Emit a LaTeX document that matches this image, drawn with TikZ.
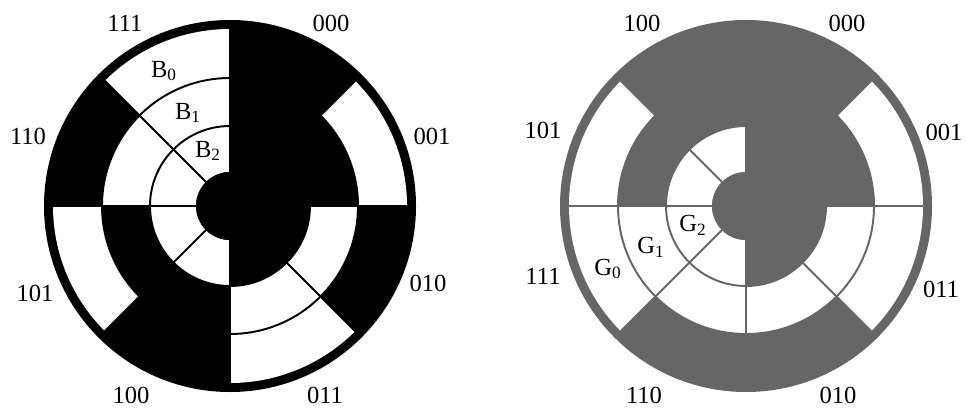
\documentclass[tikz,border=0pt]{standalone}
\usepackage{fontspec}
\setmainfont{Liberation Serif}
\usepackage{xcolor}
\usepackage{tikz}
\definecolor{diskgray}{RGB}{102,102,102}

\begin{document}
\begin{tikzpicture}[x=0.2mm, y=0.2mm, font=\fontsize{14}{16}\selectfont]
  \useasboundingbox (0,0) rectangle (967,407);
  \begin{scope}[shift={(230,201)}]
    \fill[black] (0,0) circle (186);
    \foreach \bits/\ro/\ri in {{0,1,0,1,0,1,0,1}/177/128,
                               {0,0,1,1,0,0,1,1}/128/80,
                               {0,0,0,0,1,1,1,1}/80/34}{
      \foreach \b [count=\k from 0] in \bits{
        \ifnum\b=1
          \fill[white] ({90-45*\k}:\ro) arc[start angle=90-45*\k, end angle=45-45*\k, radius=\ro]
            -- ({45-45*\k}:\ri) arc[start angle=45-45*\k, end angle=90-45*\k, radius=\ri] -- cycle;
        \fi}}
    \draw[black, line width=1.1pt] (0,0) circle (128) (0,0) circle (80);
    \foreach \k in {0,...,7}
      \draw[black, line width=1.1pt] ({90-45*\k}:34) -- ({90-45*\k}:177);
    \fill[black] (0,0) circle (34);
    \foreach \t/\x/\y in {000/101/183, 001/202/70, 010/198/-77, 011/95/-189,
                          100/-99/-189, 101/-195/-87, 110/-202/70, 111/-105/183}
      \node (bin\t) at (\x,\y) {\t};
    \node (b0) at (-66,135) {B\textsubscript{0}};
    \node (b1) at (-42,93) {B\textsubscript{1}};
    \node (b2) at (-22,55) {B\textsubscript{2}};
  \end{scope}
  \begin{scope}[shift={(746,201)}]
    \fill[diskgray] (0,0) circle (186);
    \foreach \bits/\ro/\ri in {{0,1,1,0,0,1,1,0}/177/128,
                               {0,0,1,1,1,1,0,0}/128/80,
                               {0,0,0,0,1,1,1,1}/80/34}{
      \foreach \b [count=\k from 0] in \bits{
        \ifnum\b=1
          \fill[white] ({90-45*\k}:\ro) arc[start angle=90-45*\k, end angle=45-45*\k, radius=\ro]
            -- ({45-45*\k}:\ri) arc[start angle=45-45*\k, end angle=90-45*\k, radius=\ri] -- cycle;
        \fi}}
    \draw[diskgray, line width=1.1pt] (0,0) circle (128) (0,0) circle (80);
    \foreach \k in {0,...,7}
      \draw[diskgray, line width=1.1pt] ({90-45*\k}:34) -- ({90-45*\k}:177);
    \fill[diskgray] (0,0) circle (34);
    \foreach \t/\x/\y in {000/101/183, 001/198/74, 011/195/-83, 010/92/-189,
                          110/-102/-189, 111/-203/-70, 101/-203/76, 100/-104/183}
      \node (gray\t) at (\x,\y) {\t};
    \node (g0) at (-138,-63) {G\textsubscript{0}};
    \node (g1) at (-95,-41) {G\textsubscript{1}};
    \node (g2) at (-53,-19) {G\textsubscript{2}};
  \end{scope}
\end{tikzpicture}
\end{document}
